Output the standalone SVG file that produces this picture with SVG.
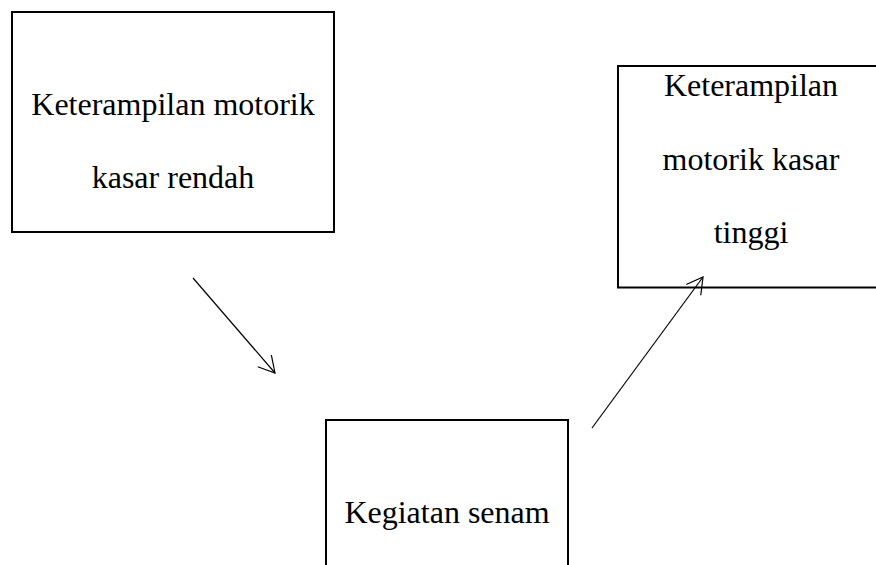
<svg xmlns="http://www.w3.org/2000/svg" width="876" height="565" viewBox="0 0 876 565">
<style>
.box{fill:#fff;stroke:#000;stroke-width:2}
.lbl{font-family:"Liberation Serif","Times New Roman",serif;font-size:32px;fill:#000;text-anchor:middle}
.conn{stroke:#000;stroke-width:1.2;fill:none}
</style>
<defs>
<marker id="arr" markerUnits="userSpaceOnUse" markerWidth="40" markerHeight="40" refX="0" refY="0" orient="auto" overflow="visible">
<path d="M-16,-9 L0,0 L-16,9" fill="none" stroke="#000" stroke-width="1.2"/>
</marker>
</defs>
<rect width="876" height="565" fill="#fff"/>
<g id="node-rendah">
<rect class="box" x="12" y="12" width="322" height="220"/>
<text class="lbl" x="173" y="115">Keterampilan motorik</text>
<text class="lbl" x="173" y="188">kasar rendah</text>
</g>
<g id="node-tinggi">
<rect class="box" x="618" y="66" width="270" height="221.5"/>
<text class="lbl" x="751" y="96">Keterampilan</text>
<text class="lbl" x="751" y="169.5">motorik kasar</text>
<text class="lbl" x="751" y="243">tinggi</text>
</g>
<g id="node-senam">
<rect class="box" x="326" y="420" width="242" height="160"/>
<text class="lbl" x="447" y="523">Kegiatan senam</text>
</g>
<g id="connectors">
<line class="conn" x1="193" y1="278" x2="275" y2="373" marker-end="url(#arr)"/>
<line class="conn" x1="592" y1="428" x2="703" y2="277" marker-end="url(#arr)"/>
</g>
</svg>
